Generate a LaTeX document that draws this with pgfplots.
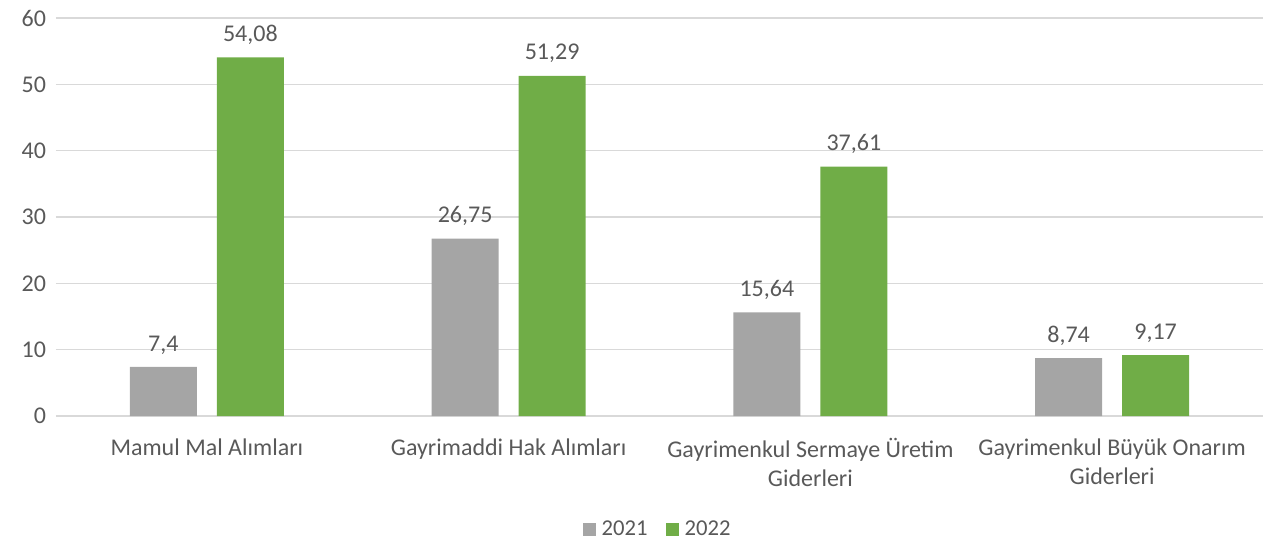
\documentclass[border=0pt]{standalone}
\usepackage{pgfplots}
\pgfplotsset{compat=1.18}
\usepackage{fontspec}
\setmainfont{Carlito}
\definecolor{bargray}{HTML}{A5A5A5}
\definecolor{bargreen}{HTML}{70AD47}
\definecolor{txt}{HTML}{595959}
\definecolor{gridc}{HTML}{D9D9D9}

\begin{document}
\begin{tikzpicture}
\begin{axis}[
  name=ax,
  scale only axis,
  width=905.25pt, height=298.5pt,
  font=\fontsize{18}{21.75}\selectfont\color{txt},
  xmin=-0.5, xmax=3.5, ymin=0, ymax=60,
  ytick={0,10,...,60},
  xtick={0,1,2,3},
  xticklabels={Mamul Mal Alımları, Gayrimaddi Hak Alımları,
    {Gayrimenkul Sermaye Üretim\\Giderleri}, {Gayrimenkul Büyük Onarım\\Giderleri}},
  xticklabel style={align=center, yshift=-13.5pt},
  yticklabel style={xshift=-4pt},
  /pgf/number format/assume math mode=true,
  ymajorgrids, grid style={gridc, line width=0.9pt},
  axis line style={draw=none},
  major tick length=0pt,
  ybar=15pt, bar width=50.25pt,
  nodes near coords,
  nodes near coords style={/pgf/number format/use comma, /pgf/number format/precision=2, yshift=6pt, color=txt},
  legend style={at={(0.5,-0.284)}, anchor=center, draw=none, legend columns=2,
    font=\fontsize{17}{20}\selectfont\color{txt},
    /tikz/every even column/.append style={column sep=10pt},
    nodes={inner xsep=4pt}},
  legend image code/.code={\fill[#1] (0pt,-4.9pt) rectangle (9.8pt,4.9pt);},
]
\addplot[fill=bargray, draw=none] coordinates {(0,7.4) (1,26.75) (2,15.64) (3,8.74)};
\addplot[fill=bargreen, draw=none] coordinates {(0,54.08) (1,51.29) (2,37.61) (3,9.17)};
\legend{2021,2022}
\end{axis}
\pgfresetboundingbox
\path ([xshift=-42pt,yshift=-95.25pt]ax.south west) rectangle ([xshift=16.5pt,yshift=13.5pt]ax.north east);
\end{tikzpicture}
\end{document}
